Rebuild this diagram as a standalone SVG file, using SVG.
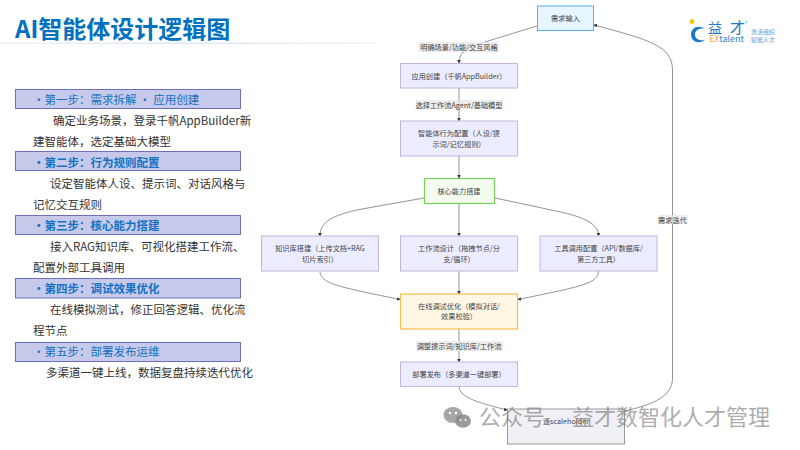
<svg xmlns="http://www.w3.org/2000/svg" width="800" height="450" viewBox="0 0 800 450">
<style>
text{font-family:"Noto Sans CJK SC","Liberation Sans",sans-serif}
.bar{fill:#c6c9e9;stroke:#6c70b8;stroke-width:1}
.h{font-size:11.5px;fill:#1272c4;dominant-baseline:central}
.hb{font-weight:700}
.b{font-size:11.5px;fill:#333;dominant-baseline:central}
.n{font-size:7.2px;fill:#444;text-anchor:middle;dominant-baseline:central}
.p{fill:#ececff;stroke:#c3b5e0;stroke-width:1}
.e{fill:none;stroke:#777;stroke-width:.8;marker-end:url(#a)}
.lb{fill:#e8e8e8;opacity:.8}
.l{font-size:7.2px;fill:#444;text-anchor:middle;dominant-baseline:central}
.w{font-size:22px;fill:#777;opacity:.6}
</style>
<defs>
<marker id="a" viewBox="0 0 6 6" refX="5" refY="3" markerWidth="3.6" markerHeight="3.6" markerUnits="userSpaceOnUse" orient="auto"><path d="M0,0L6,3L0,6z" fill="#333"/></marker>
<linearGradient id="rule" x1="0" x2="1" y1="0" y2="0"><stop offset="0" stop-color="#eef2f6"/><stop offset=".5" stop-color="#dfe6ee"/><stop offset="1" stop-color="#f2f4f7"/></linearGradient>
</defs>
<rect width="800" height="450" fill="#fff"/>
<g id="header">
<text x="15" y="38" font-size="24" font-weight="700" fill="#0070c0">AI智能体设计逻辑图</text>
<rect x="0" y="42.5" width="377" height="1.5" fill="url(#rule)"/>
</g>
<g id="steps">
<rect class="bar" x="15.5" y="89.5" width="225" height="19"/>
<text class="h" x="33" y="99">•第一步：需求拆解 · 应用创建</text>
<text class="b" x="53" y="120">确定业务场景，登录千帆AppBuilder新</text>
<text class="b" x="33" y="141">建智能体，选定基础大模型</text>
<rect class="bar" x="15.5" y="151.5" width="225" height="19"/>
<text class="h hb" x="33" y="162">•第二步：行为规则配置</text>
<text class="b" x="50" y="183">设定智能体人设、提示词、对话风格与</text>
<text class="b" x="33" y="204">记忆交互规则</text>
<rect class="bar" x="15.5" y="215.5" width="225" height="19"/>
<text class="h hb" x="33" y="225">•第三步：核心能力搭建</text>
<text class="b" x="50" y="246">接入RAG知识库、可视化搭建工作流、</text>
<text class="b" x="33" y="267">配置外部工具调用</text>
<rect class="bar" x="15.5" y="278.5" width="225" height="19.5"/>
<text class="h hb" x="33" y="288">•第四步：调试效果优化</text>
<text class="b" x="50" y="309">在线模拟测试，修正回答逻辑、优化流</text>
<text class="b" x="33" y="330">程节点</text>
<rect class="bar" x="15.5" y="342.5" width="225" height="19"/>
<text class="h" x="33" y="351">•第五步：部署发布运维</text>
<text class="b" x="46" y="372">多渠道一键上线，数据复盘持续迭代优化</text>
</g>
<g id="connectors">
<path class="e" d="M537,26L488,41C466,48 459,52 459,63"/>
<path class="e" d="M459,88V121"/>
<path class="e" d="M459,156V178"/>
<path class="e" d="M424,198L362,209C332,215 320,222 320,236"/>
<path class="e" d="M459,203V236"/>
<path class="e" d="M495,198L556,211C585,217 598.500,224 598.500,236"/>
<path class="e" d="M320,271C320,284 340,287 400,299.500"/>
<path class="e" d="M459,271V294"/>
<path class="e" d="M598.500,271C598.500,284 578,287 518,299.500"/>
<path class="e" d="M459,329V362"/>
<path class="e" d="M459,386C459,398 480,403 507,410"/>
<path class="e" d="M625,411C655,404 672.500,396 672.500,378V70C672.500,46 650,40 594,25"/>
<rect class="lb" x="419" y="42" width="80" height="10"/>
<text class="l" x="459" y="46.500">明确场景/功能/交互风格</text>
<rect class="lb" x="416" y="100" width="87" height="9"/>
<text class="l" x="459" y="104.500">选择工作流Agent/基础模型</text>
<rect class="lb" x="416" y="341" width="87" height="10"/>
<text class="l" x="459" y="345.500">调整提示词/知识库/工作流</text>
<rect class="lb" x="658" y="215" width="29" height="9"/>
<text class="l" x="672.500" y="219.500">需求迭代</text>
</g>
<g id="n-input"><rect x="537.500" y="6" width="56" height="24.500" fill="#e6f5ff" stroke="#5aaef0" stroke-width="1"/><text class="n" x="565.500" y="18">需求输入</text></g>
<g id="n-app"><rect class="p" x="400.500" y="63.500" width="117" height="24.500"/><text class="n" x="459" y="75.500">应用创建（千帆AppBuilder）</text></g>
<g id="n-agent"><rect class="p" x="400.500" y="121" width="117" height="35"/><text class="n" x="459" y="133">智能体行为配置（人设/提</text><text class="n" x="459" y="143.500">示词/记忆规则）</text></g>
<g id="n-core"><rect x="424.500" y="178.500" width="70" height="25" fill="#f4fcef" stroke="#77d05a" stroke-width="1.200"/><text class="n" x="459" y="190.500">核心能力搭建</text></g>
<g id="n-kb"><rect class="p" x="261.500" y="236" width="117" height="35"/><text class="n" x="320" y="248">知识库搭建（上传文档+RAG</text><text class="n" x="320" y="258.500">切片索引）</text></g>
<g id="n-flow"><rect class="p" x="400.500" y="236" width="117" height="35"/><text class="n" x="459" y="248">工作流设计（拖拽节点/分</text><text class="n" x="459" y="258.500">支/循环）</text></g>
<g id="n-tool"><rect class="p" x="540" y="236" width="117" height="35"/><text class="n" x="598.500" y="248">工具调用配置（API/数据库/</text><text class="n" x="598.500" y="258.500">第三方工具）</text></g>
<g id="n-debug"><rect x="400.500" y="294" width="117" height="35" fill="#fff7e3" stroke="#f5bd50" stroke-width="1.200"/><text class="n" x="459" y="305.500">在线调试优化（模拟对话/</text><text class="n" x="459" y="316">效果校验）</text></g>
<g id="n-deploy"><rect class="p" x="400.500" y="362" width="117" height="24.500"/><text class="n" x="459" y="374">部署发布（多渠道一键部署）</text></g>
<g id="n-iter"><rect x="507.500" y="409" width="117" height="35" fill="#f0f1f6" stroke="#9a9a9a" stroke-width="1"/><text class="n" x="566" y="421">逐scaleholder</text></g>
<g id="logo">
<path d="M705,29C698,24 691,28 691,34.500C691,41 698,45 705,40C700,41 695,39.500 695,34.500C695,30 700,27.500 705,29z" fill="#1e78c8"/>
<circle cx="692" cy="21.500" r="2.500" fill="#f5c518"/>
<text x="708" y="33" font-size="14" fill="#1e78c8">益</text>
<text x="730" y="33" font-size="15" fill="#1e78c8">才</text>
<text x="745" y="25" font-size="5" fill="#5a9fd8">®</text>
<text x="709" y="42" font-size="9"><tspan fill="#f5a83c">EX</tspan><tspan fill="#2f83cc">talent</tspan></text>
<text x="751" y="34" font-size="6" fill="#6a9ac8">激活组织</text>
<text x="751" y="41.500" font-size="6" fill="#6a9ac8">赋能人才</text>
</g>
<g id="watermark">
<ellipse cx="453" cy="415" rx="9.500" ry="8" fill="#8a8a8a" opacity=".75"/>
<ellipse cx="463" cy="421" rx="8" ry="6.800" fill="#8a8a8a" opacity=".85"/>
<circle cx="450" cy="413" r="1.200" fill="#fff"/><circle cx="456" cy="413" r="1.200" fill="#fff"/>
<circle cx="460.500" cy="420" r="1" fill="#fff"/><circle cx="465.500" cy="420" r="1" fill="#fff"/>
<text class="w" x="479" y="425" word-spacing="22">公众号 益才数智化人才管理</text>
</g>
</svg>
